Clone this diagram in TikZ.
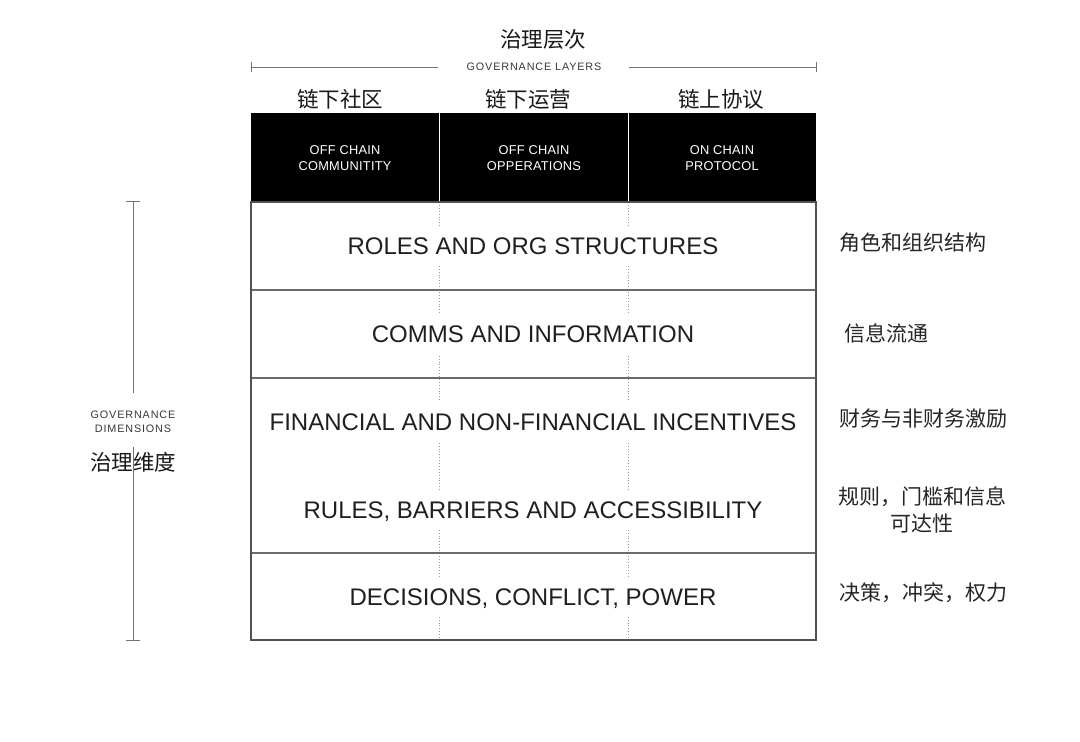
\documentclass[tikz,border=0pt]{standalone}
\usepackage{fontspec}
\setmainfont{Liberation Sans}
\newfontfamily\widesans[LetterSpace=8]{Liberation Sans}
\newfontfamily\hdrsans[LetterSpace=2]{Liberation Sans}
\newfontfamily\cjk{Noto Sans CJK SC}
\begin{document}
\begin{tikzpicture}[x=1pt,y=-1pt,
  rowtext/.style={font=\fontsize{24}{28}\selectfont, text=black!88, fill=white, inner xsep=3pt, inner ysep=11pt, text height=17.2pt, text depth=0pt},
  hdrtext/.style={font=\hdrsans\fontsize{12.8}{15.5}\selectfont, text=white, align=center},
  smalllabel/.style={font=\widesans\fontsize{10.8}{14}\selectfont, text=black!78, align=center},
  zh/.style={font=\cjk\fontsize{21}{27}\selectfont, text=black!85, align=center},
  zhtop/.style={font=\cjk\fontsize{21.5}{27}\selectfont, text=black!90},
  border/.style={draw=black!68, line width=1.2pt},
  sep/.style={draw=black!58, line width=1.1pt},
  dotline/.style={draw=black!40, dotted, line width=0.9pt},
  guide/.style={draw=black!55, line width=1pt},
]
\useasboundingbox[fill=white] (0,0) rectangle (1080,742);

% governance layers axis
\draw[guide] (251,67) -- (438,67);
\draw[guide] (629,67) -- (816,67);
\draw[guide] (251,62) -- (251,72);
\draw[guide] (816,62) -- (816,72);
\node[smalllabel] (gl) at (534,67) {GOVERNANCE LAYERS};
\node[zhtop] (gltitle) at (543,39) {治理层次};

% column titles
\node[zhtop] (c1) at (340,99) {链下社区};
\node[zhtop] (c2) at (528,99) {链下运营};
\node[zhtop] (c3) at (721,99) {链上协议};

% black header
\fill[black] (251,113) rectangle (816,202);
\draw[white, line width=1pt] (439,113) -- (439,202);
\draw[white, line width=1pt] (628,113) -- (628,202);
\node[hdrtext] (h1) at (345,158) {OFF CHAIN\\COMMUNITITY};
\node[hdrtext] (h2) at (534,158) {OFF CHAIN\\OPPERATIONS};
\node[hdrtext] (h3) at (722,158) {ON CHAIN\\PROTOCOL};

% table body
\draw[dotline] (439,202) -- (439,640);
\draw[dotline] (628,202) -- (628,640);
\draw[sep] (251,290) -- (816,290);
\draw[sep] (251,378) -- (816,378);
\draw[sep] (251,553) -- (816,553);
\draw[border] (251,202) rectangle (816,640);

\node[rowtext] (r1) at (533,246) {ROLES AND ORG STRUCTURES};
\node[rowtext] (r2) at (533,334) {COMMS AND INFORMATION};
\node[rowtext] (r3) at (533,422) {FINANCIAL AND NON-FINANCIAL INCENTIVES};
\node[rowtext] (r4) at (533,510) {RULES, BARRIERS AND ACCESSIBILITY};
\node[rowtext] (r5) at (533,597) {DECISIONS, CONFLICT, POWER};

% right Chinese labels
\node[zh, anchor=west] (z1) at (836,243) {角色和组织结构};
\node[zh, anchor=west] (z2) at (841,333) {信息流通};
\node[zh, anchor=west] (z3) at (836,419) {财务与非财务激励};
\node[zh] (z4) at (922,510) {规则，门槛和信息\\可达性};
\node[zh, anchor=west] (z5) at (836,593) {决策，冲突，权力};

% governance dimensions axis
\draw[guide] (133,201) -- (133,393);
\draw[guide] (126,201) -- (140,201);
\draw[guide] (133,447) -- (133,640);
\draw[guide] (126,640) -- (140,640);
\node[smalllabel] (gd) at (133,422) {GOVERNANCE\\DIMENSIONS};
\node[zhtop] (gdzh) at (133,462) {治理维度};
\end{tikzpicture}
\end{document}
